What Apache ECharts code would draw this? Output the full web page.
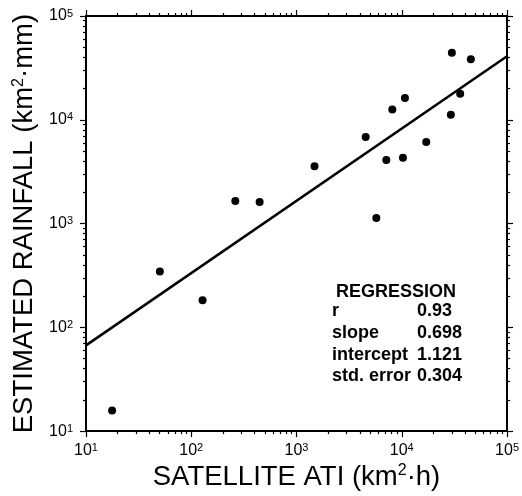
<!DOCTYPE html>
<html><head><meta charset="utf-8">
<script src="https://cdn.jsdelivr.net/npm/echarts@6/dist/echarts.min.js"></script>
<style>html,body{margin:0;padding:0;background:#fff}#c{width:522px;height:496px}</style>
</head><body><div id="c"></div>
<script>
// ---- data ----
const atiValues  = [17.7, 50.3, 128, 262, 446, 1482, 5730, 4540, 7130, 10260, 8130, 10720, 17070, 29250, 29900, 35890, 45290];
const rainValues = [15.8, 345, 182, 1652, 1617, 3573, 1132, 6820, 4100, 4315, 12570, 16230, 6120, 11200, 44300, 17840, 38280];
const regLineX = [10, 100000];
const regLineY = [67, 41000];
const majorTicks = [10, 100, 1000, 10000, 100000];
const minorTicks = [20, 30, 40, 50, 60, 70, 80, 90,
                    200, 300, 400, 500, 600, 700, 800, 900,
                    2000, 3000, 4000, 5000, 6000, 7000, 8000, 9000,
                    20000, 30000, 40000, 50000, 60000, 70000, 80000, 90000];
const regressionTitle = 'REGRESSION';
const regressionLabels = ['r', 'slope', 'intercept', 'std. error'];
const regressionValues = ['0.93', '0.698', '1.121', '0.304'];
const xTitle = ['SATELLITE ATI (km', '2', '·h)'];
const yTitle = ['ESTIMATED RAINFALL (km', '2', '·mm)'];

const FONT = '"Liberation Sans", Arial, Helvetica, sans-serif';

function fmtPow(v) {
  const e = Math.round(Math.log10(v));
  return '{b|10}{s|' + e + '}';
}
const labelRich = {
  b: {fontSize: 16, fontFamily: FONT, color: '#000'},
  s: {fontSize: 11, fontFamily: FONT, color: '#000', verticalAlign: 'top'}
};
const titleRich = {
  t: {fontSize: 27.5, fontFamily: FONT, color: '#000'},
  s: {fontSize: 16, fontFamily: FONT, color: '#000', verticalAlign: 'top'}
};

function axis(pos, kind, extra) {
  const isMajor = kind === 'major';
  const a = {
    type: 'log', logBase: 10, min: 10, max: 100000, position: pos, gridIndex: 0,
    axisLine: {show: isMajor, lineStyle: {color: '#000', width: 2}},
    axisTick: {show: true, inside: false, length: isMajor ? 6 : 3,
               customValues: isMajor ? majorTicks : minorTicks,
               lineStyle: {color: '#000', width: 1.2}},
    axisLabel: {show: false},
    splitLine: {show: false},
    minorTick: {show: false}
  };
  return Object.assign(a, extra || {});
}

const chart = echarts.init(document.getElementById('c'), null, {renderer: 'canvas'});
chart.setOption({
  animation: false,
  backgroundColor: '#fff',
  grid: {left: 86, right: 14, top: 16, bottom: 58, containLabel: false},
  xAxis: [
    axis('bottom', 'major', {
      axisLabel: {show: true, customValues: majorTicks, formatter: fmtPow, rich: labelRich, margin: 11},
      name: '{t|' + xTitle[0] + '}{s|' + xTitle[1] + '}{t|' + xTitle[2] + '}',
      nameLocation: 'middle', nameGap: 27,
      nameTextStyle: {rich: titleRich}
    }),
    axis('bottom', 'minor'),
    axis('top', 'major'),
    axis('top', 'minor')
  ],
  yAxis: [
    axis('left', 'major', {
      axisLabel: {show: true, customValues: majorTicks, formatter: fmtPow, rich: labelRich, margin: 13},
      name: '{t|' + yTitle[0] + '}{s|' + yTitle[1] + '}{t|' + yTitle[2] + '}',
      nameLocation: 'middle', nameGap: 41,
      nameTextStyle: {rich: titleRich}
    }),
    axis('left', 'minor'),
    axis('right', 'major'),
    axis('right', 'minor')
  ],
  series: [
    {
      type: 'line', xAxisIndex: 0, yAxisIndex: 0,
      data: regLineX.map((x, i) => [x, regLineY[i]]),
      symbol: 'none', lineStyle: {color: '#000', width: 2.5}, silent: true, z: 2
    },
    {
      type: 'scatter', xAxisIndex: 0, yAxisIndex: 0,
      data: atiValues.map((x, i) => [x, rainValues[i]]),
      symbol: 'circle', symbolSize: 8,
      itemStyle: {color: '#000', opacity: 1}, z: 3
    }
  ],
  graphic: [
    {type: 'text', x: 396, y: 292, style: {text: regressionTitle, font: 'bold 18px ' + FONT, fill: '#000', align: 'center', verticalAlign: 'middle', textAlign: 'center', textVerticalAlign: 'middle'}}
  ].concat(regressionLabels.map((t, i) => ({
    type: 'text', x: 332, y: 311 + i * 21.8,
    style: {text: t, font: 'bold 18px ' + FONT, fill: '#000', align: 'left', verticalAlign: 'middle', textAlign: 'left', textVerticalAlign: 'middle'}
  }))).concat(regressionValues.map((t, i) => ({
    type: 'text', x: 417, y: 311 + i * 21.8,
    style: {text: t, font: 'bold 18px ' + FONT, fill: '#000', align: 'left', verticalAlign: 'middle', textAlign: 'left', textVerticalAlign: 'middle'}
  })))
});
</script>
</body></html>
